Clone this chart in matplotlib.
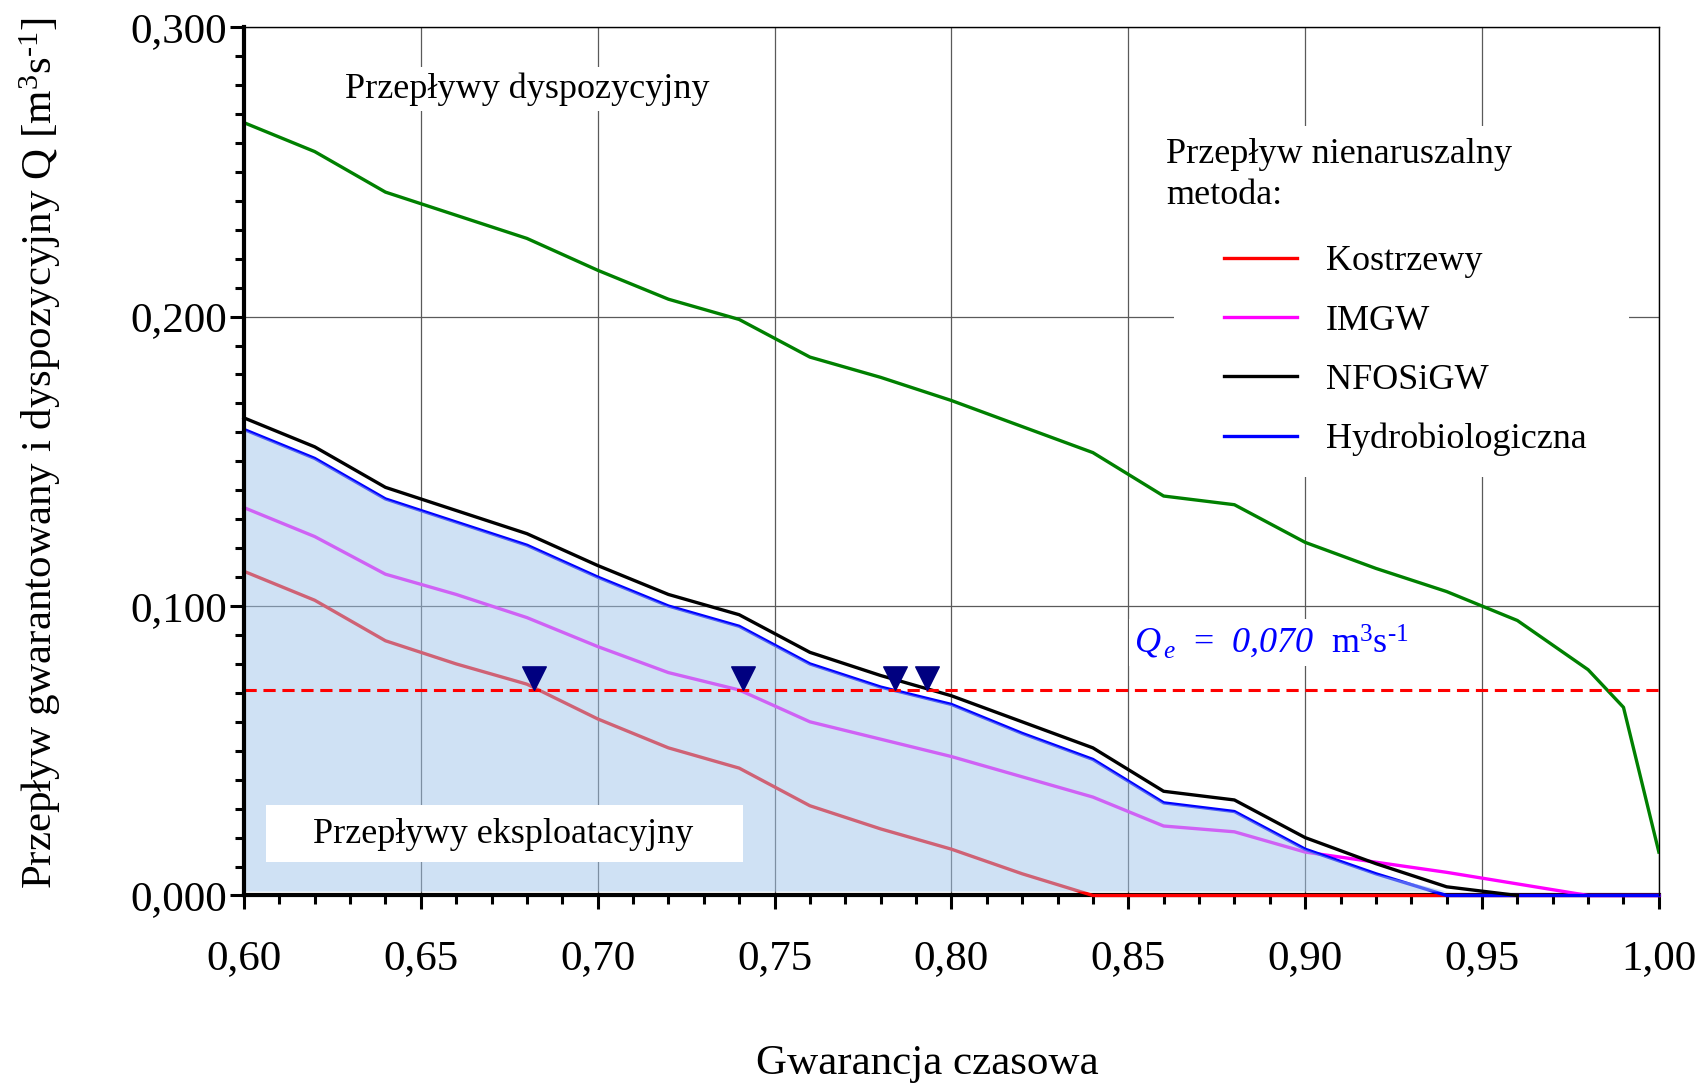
import numpy as np
import matplotlib
matplotlib.use('Agg')
import matplotlib.pyplot as plt
from matplotlib.ticker import MultipleLocator, FuncFormatter
from matplotlib.patches import Rectangle
from matplotlib.path import Path

plt.rcParams['font.family'] = ['Liberation Serif', 'DejaVu Serif']
plt.rcParams['mathtext.fontset'] = 'custom'
plt.rcParams['mathtext.rm'] = 'Liberation Serif'
plt.rcParams['mathtext.it'] = 'Liberation Serif:italic'
plt.rcParams['mathtext.sf'] = 'Liberation Serif:italic'  # italic digits for Qe

# gwarancja czasowa
gwar = [0.60, 0.62, 0.64, 0.66, 0.68, 0.70, 0.72, 0.74, 0.76, 0.78, 0.80,
        0.82, 0.84, 0.86, 0.88, 0.90, 0.92, 0.94, 0.96, 0.98, 1.00]
gwar_dysp = [0.60, 0.62, 0.64, 0.66, 0.68, 0.70, 0.72, 0.74, 0.76, 0.78, 0.80,
             0.82, 0.84, 0.86, 0.88, 0.90, 0.92, 0.94, 0.96, 0.98, 0.99, 1.00]
gwar_nfos = gwar[:19]

# przeplywy [m3/s]
q_dysp = [0.267, 0.257, 0.243, 0.235, 0.227, 0.216, 0.206, 0.199, 0.186, 0.179, 0.171,
          0.162, 0.153, 0.138, 0.135, 0.122, 0.113, 0.105, 0.095, 0.078, 0.065, 0.015]
q_kostrzewy = [0.112, 0.102, 0.088, 0.080, 0.073, 0.061, 0.051, 0.044, 0.031, 0.023, 0.016,
               0.0075, 0.0, 0.0, 0.0, 0.0, 0.0, 0.0, 0.0, 0.0, 0.0]
q_imgw = [0.134, 0.124, 0.111, 0.104, 0.096, 0.086, 0.077, 0.071, 0.060, 0.054, 0.048,
          0.041, 0.034, 0.024, 0.022, 0.015, 0.0115, 0.008, 0.004, 0.0, 0.0]
q_nfos = [0.165, 0.155, 0.141, 0.133, 0.125, 0.114, 0.104, 0.097, 0.084, 0.076, 0.069,
          0.060, 0.051, 0.036, 0.033, 0.020, 0.011, 0.003, 0.0]
q_hydro = [0.161, 0.151, 0.137, 0.129, 0.121, 0.110, 0.100, 0.093, 0.080, 0.072, 0.066,
           0.056, 0.047, 0.032, 0.029, 0.016, 0.0075, 0.0, 0.0, 0.0, 0.0]

# przeplyw eksploatacyjny i punkty przeciecia
q_e = 0.071
przeciecia = [0.682, 0.741, 0.784, 0.793]

fig = plt.figure(figsize=(17, 10.89), dpi=100)
ax = fig.add_subplot(111)
fig.subplots_adjust(left=0.1435, right=0.9758, top=0.9751, bottom=0.1777)

lw = 2.4
l_kos, = ax.plot(gwar, q_kostrzewy, color='#ff0000', lw=lw, zorder=2.0, clip_on=False, label='Kostrzewy')
l_imgw, = ax.plot(gwar, q_imgw, color='#ff00ff', lw=lw, zorder=2.1, clip_on=False, label='IMGW')
l_hyd, = ax.plot(gwar, q_hydro, color='#0000ff', lw=lw, zorder=2.2, clip_on=False, label='Hydrobiologiczna')

# obszar przeplywow eksploatacyjnych
x = np.array(gwar)
gora = np.maximum(np.array(q_hydro), 0.0015)
ax.fill_between(x, 0.0015, gora, where=x <= 0.94, color='#a1c5eb', alpha=0.5, lw=0, zorder=2.5)

l_nfos, = ax.plot(gwar_nfos, q_nfos, color='black', lw=lw, zorder=3, clip_on=False, label='NFOSiGW')
ax.plot(gwar_dysp, q_dysp, color='#008000', lw=2.4, zorder=3)

ax.axhline(q_e, color='#ff0000', lw=2.2, dashes=(4, 2.2), zorder=3.5)

tri = Path([(0, 0), (-0.5, 1), (0.5, 1), (0, 0)])
ax.plot(przeciecia, [q_e] * len(przeciecia), ls='none', marker=tri, ms=34,
        color='#000080', zorder=4)

ax.set_xlim(0.6, 1.0)
ax.set_ylim(0, 0.3)
ax.xaxis.set_major_locator(MultipleLocator(0.05))
ax.xaxis.set_minor_locator(MultipleLocator(0.01))
ax.yaxis.set_major_locator(MultipleLocator(0.1))
ax.yaxis.set_minor_locator(MultipleLocator(0.01))
ax.xaxis.set_major_formatter(FuncFormatter(lambda v, p: f'{v:.2f}'.replace('.', ',')))
ax.yaxis.set_major_formatter(FuncFormatter(lambda v, p: f'{v:.3f}'.replace('.', ',')))
ax.tick_params(which='major', direction='out', length=10, width=2.2, labelsize=31)
ax.tick_params(which='minor', direction='out', length=6.5, width=2.2)
ax.tick_params(axis='x', which='major', pad=22)
ax.tick_params(axis='y', which='major', pad=2)
ax.grid(True, which='major', color='#5a5a5a', lw=0.9)

for s in ['top', 'right']:
    ax.spines[s].set_linewidth(1)
ax.spines['left'].set_linewidth(3)
ax.spines['left'].set_zorder(5)
ax.spines['bottom'].set_linewidth(3)
ax.spines['bottom'].set_zorder(1.9)

ax.set_xlabel('Gwarancja czasowa', fontsize=31)
ax.xaxis.set_label_coords(0.483, -0.172)
ax.set_ylabel('Przepływ gwarantowany i dyspozycyjny Q [m$^3$s$^{\u20101}$]', fontsize=31)
ax.yaxis.set_label_coords(-0.128, 0.509)

# opisy
ax.text(0.2, 0.9287, 'Przepływy dyspozycyjny', transform=ax.transAxes, ha='center', va='center',
        fontsize=26, bbox=dict(fc='white', ec='none', pad=4), zorder=4)
ax.add_patch(Rectangle((0.0153, 0.038), 0.3371, 0.066, transform=ax.transAxes,
                       fc='white', ec='none', zorder=2.6))
ax.text(0.183, 0.070, 'Przepływy eksploatacyjny', transform=ax.transAxes, ha='center', va='center',
        fontsize=26, zorder=2.7)
ax.text(0.8515, 0.0875, '$Q_{\\,e}$  =  $\\mathsf{0{,}070}$  m$^3$s$^{\u20101}$', color='#0000ff',
        fontsize=26, va='center', ha='left', bbox=dict(fc='white', ec='none', pad=3), zorder=3.2)

# legenda
ax.add_patch(Rectangle((0.657, 0.482), 0.322, 0.404, transform=ax.transAxes,
                       fc='white', ec='none', zorder=1.8))
ax.text(0.652, 0.8295, 'Przepływ nienaruszalny\nmetoda:', transform=ax.transAxes,
        ha='left', va='center', fontsize=26, linespacing=1.3, zorder=4)
ax.legend(handles=[l_kos, l_imgw, l_nfos, l_hyd], loc='upper left', bbox_to_anchor=(0.693, 0.749),
          frameon=False, fontsize=26, handlelength=2.0, handletextpad=0.8, labelspacing=0.72,
          borderpad=0, borderaxespad=0)

fig.savefig('out.png', dpi=100)
